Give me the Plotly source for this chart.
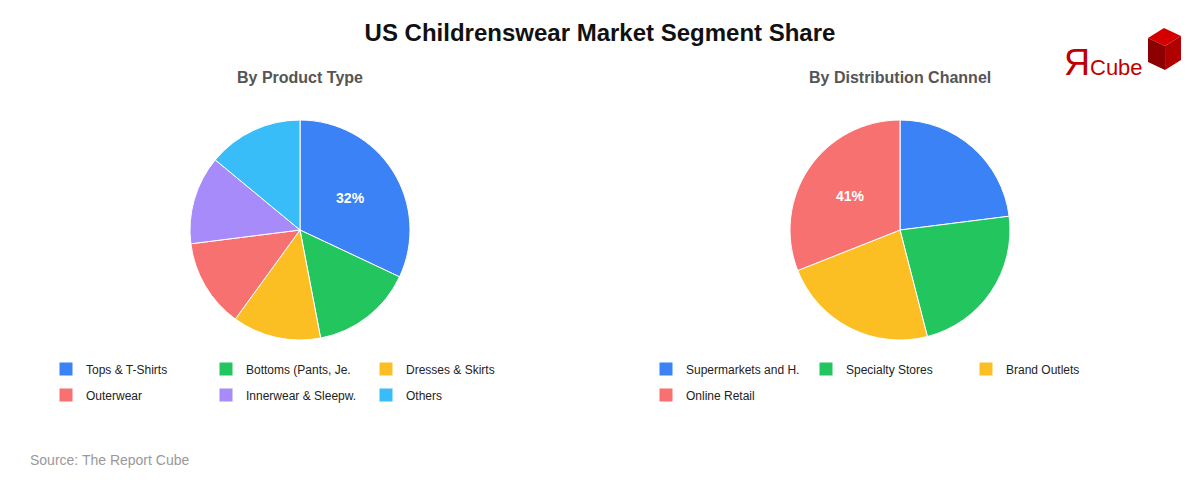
import plotly.graph_objects as go

product_labels = ['Tops & T-Shirts', 'Bottoms (Pants, Je.', 'Dresses & Skirts', 'Outerwear', 'Innerwear & Sleepw.', 'Others']
product_values = [32, 15, 13, 13, 13, 14]
product_text = ['<b>32%</b>', '', '', '', '', '']

channel_labels = ['Supermarkets and H.', 'Specialty Stores', 'Brand Outlets', 'Online Retail']
channel_values = [23, 23, 23, 31]
channel_text = ['', '', '', '<b>41%</b>']

product_colors = ['#3B82F6', '#22C55E', '#FBBF24', '#F87171', '#A78BFA', '#38BDF8']
channel_colors = ['#3B82F6', '#22C55E', '#FBBF24', '#F87171']


def px(x):
    return (x - 8) / 1200


def py(y):
    return 1 - (y - 8) / 480


fig = go.Figure()
for labels, values, text, colors, cx in [
        (product_labels, product_values, product_text, product_colors, 300),
        (channel_labels, channel_values, channel_text, channel_colors, 900)]:
    fig.add_trace(go.Pie(
        labels=labels, values=values, text=text,
        texttemplate='%{text}', textposition='inside', insidetextorientation='horizontal',
        textfont=dict(color='white', size=14, family='Liberation Sans'),
        marker=dict(colors=colors, line=dict(color='white', width=1)),
        sort=False, direction='clockwise', rotation=0,
        domain=dict(x=[px(cx - 110), px(cx + 110)], y=[py(340), py(120)]),
        showlegend=False, hoverinfo='label+percent'))

# legend rows (3 entries each) drawn with dummy square markers
rows = [
    (product_labels[:3], product_colors[:3], 'legend'),
    (product_labels[3:], product_colors[3:], 'legend2'),
    (channel_labels[:3], channel_colors[:3], 'legend3'),
    (channel_labels[3:], channel_colors[3:], 'legend4'),
]
for labels, colors, lg in rows:
    for lab, col in zip(labels, colors):
        fig.add_trace(go.Scatter(x=[None], y=[None], mode='markers', name=lab,
                                 marker=dict(symbol='square', size=13, color=col),
                                 legend=lg, showlegend=True))

leg = dict(orientation='h', xanchor='left', yanchor='middle', entrywidth=115,
           font=dict(size=12, color='#222', family='Liberation Sans'),
           itemwidth=30, bgcolor='rgba(0,0,0,0)')
fig.update_layout(
    width=1200, height=480,
    margin=dict(l=0, r=0, t=0, b=0, autoexpand=False),
    paper_bgcolor='white', plot_bgcolor='white',
    font=dict(family='Liberation Sans'),
    xaxis=dict(visible=False), yaxis=dict(visible=False),
    title=dict(text='<b>US Childrenswear Market Segment Share</b>', x=px(600), xanchor='center',
               y=py(33), yanchor='middle', font=dict(size=24, color='#111')),
    legend=dict(x=px(46), y=py(369), **leg),
    legend2=dict(x=px(46), y=py(395), **leg),
    legend3=dict(x=px(646), y=py(369), **leg),
    legend4=dict(x=px(646), y=py(395), **leg),
    annotations=[
        dict(text='<b>By Product Type</b>', x=px(300), y=py(77), xref='paper', yref='paper',
             xanchor='center', yanchor='middle', showarrow=False, font=dict(size=16, color='#555')),
        dict(text='<b>By Distribution Channel</b>', x=px(900), y=py(77), xref='paper', yref='paper',
             xanchor='center', yanchor='middle', showarrow=False, font=dict(size=16, color='#555')),
        dict(text='Source: The Report Cube', x=px(28), y=py(460), xref='paper', yref='paper',
             xanchor='left', yanchor='middle', showarrow=False, font=dict(size=14, color='#999')),
        dict(text='<span style="font-size:36px">Я</span>Cube', x=px(1062), y=py(62),
             xref='paper', yref='paper', xanchor='left', yanchor='middle', showarrow=False,
             font=dict(size=22, color='#C00000')),
    ],
    shapes=[
        dict(type='path', xref='paper', yref='paper', fillcolor='#D40000', line=dict(width=0),
             path='M 0.9500 0.9375 L 0.9633 0.9583 L 0.9775 0.9417 L 0.9642 0.9208 Z'),
        dict(type='path', xref='paper', yref='paper', fillcolor='#8B0000', line=dict(width=0),
             path='M 0.9500 0.9375 L 0.9642 0.9208 L 0.9642 0.8708 L 0.9500 0.8875 Z'),
        dict(type='path', xref='paper', yref='paper', fillcolor='#B00000', line=dict(width=0),
             path='M 0.9642 0.9208 L 0.9775 0.9417 L 0.9775 0.8917 L 0.9642 0.8708 Z'),
    ],
)
fig.write_html('out.html')
